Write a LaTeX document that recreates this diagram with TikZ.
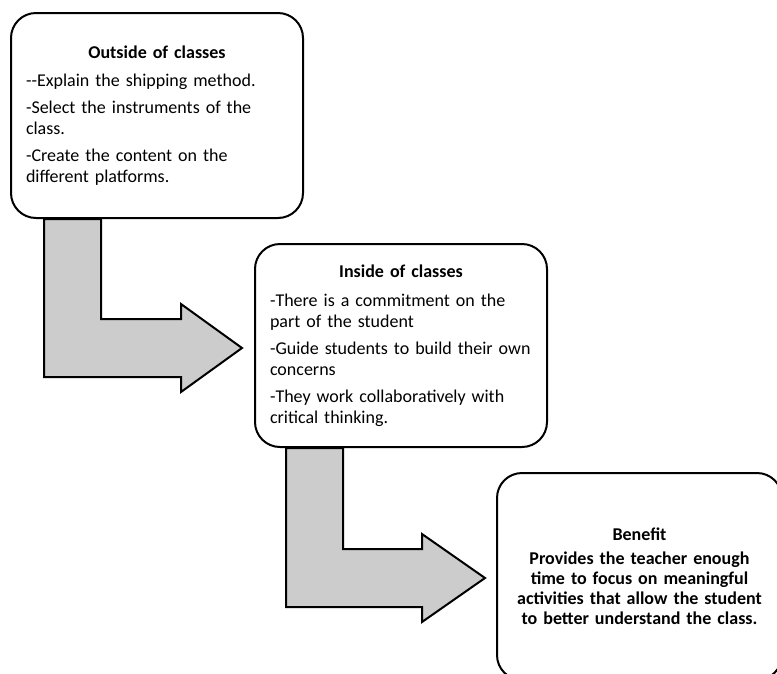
\documentclass[tikz,border=0pt]{standalone}
\usepackage{fontspec}
\setmainfont{Carlito}
\usetikzlibrary{calc}
\definecolor{arrowgray}{RGB}{204,204,204}

\begin{document}
\begin{tikzpicture}[x=1pt, y=-1pt,
	stage/.style={draw, line width=2pt, rounded corners=25pt, minimum width=292pt, minimum height=205pt,
		text width=262pt, align=left, font=\fontsize{18}{21}\selectfont},
	bentarrow/.style={draw, line width=2pt, fill=arrowgray, line join=miter}]
	\useasboundingbox (0,0) rectangle (777,673);
	\clip (0,0) rectangle (777,673);
	
	% Define nodes
	\node [stage] (outside) at (157,115.5) {\makebox[\linewidth]{\bfseries Outside of classes}\\[7pt]
		-{}-Explain the shipping method.\\[6pt]
		-Select the instruments of the\\ class.\\[6pt]
		-Create the content on the\\ different platforms.};
	\node [stage, minimum height=203pt] (inside) at (401,345.5) {\makebox[\linewidth]{\bfseries Inside of classes}\\[8pt]
		-There is a commitment on the\\ part of the student\\[6pt]
		-Guide students to build their own\\ concerns\\[6pt]
		-They work collaboratively with\\ critical thinking.};
	\node [stage, minimum width=285pt, minimum height=207pt, text width=250pt, align=center,
		font=\fontsize{18}{20}\selectfont\bfseries] (benefit) at (639.5,576.5) {Benefit\\[4pt]
		Provides the teacher enough\\ time to focus on meaningful\\ activities that allow the student\\ to better understand the class.};
	
	% Arrow ends
	\coordinate (a1) at ($(outside.south west)+(34,0)$);
	\coordinate (t1) at ($(inside.west)+(-12,2.5)$);
	\coordinate (a2) at ($(inside.south west)+(32,0)$);
	\coordinate (t2) at ($(benefit.west)+(-11,1.5)$);
	
	% Draw bent arrows
	\draw [bentarrow] (a1) -- ++(57,0) |- ($(t1)+(-61,-29)$) -- ++(0,-15) -- (t1)
		-- ($(t1)+(-61,44)$) -- ++(0,-15) -- ($(a1 |- t1)+(0,29)$) -- cycle;
	\draw [bentarrow] (a2) -- ++(57,0) |- ($(t2)+(-63,-29)$) -- ++(0,-15) -- (t2)
		-- ($(t2)+(-63,44)$) -- ++(0,-15) -- ($(a2 |- t2)+(0,29)$) -- cycle;
\end{tikzpicture}
\end{document}
